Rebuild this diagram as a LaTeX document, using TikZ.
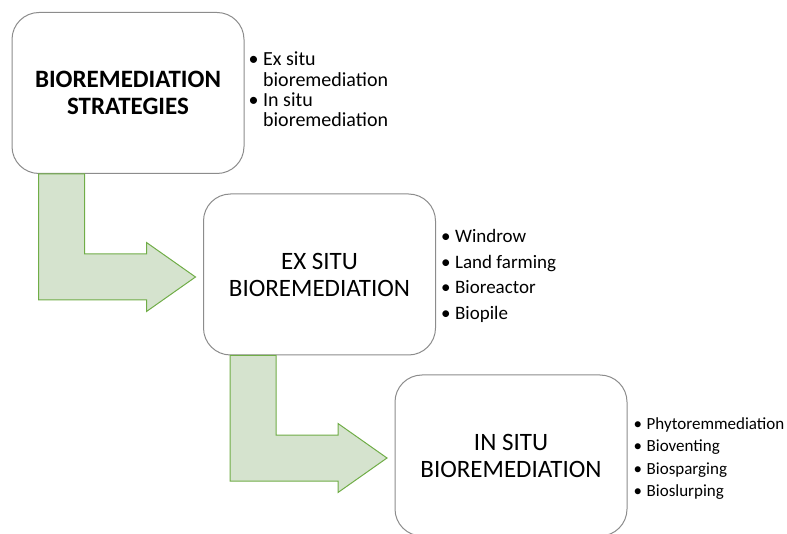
\documentclass[tikz,border=0pt]{standalone}
\usepackage{fontspec}
\setmainfont{Carlito}
\usetikzlibrary{positioning,calc}

\definecolor{boxline}{HTML}{8C8C8C}
\definecolor{arrowfill}{HTML}{D5E3CE}
\definecolor{arrowline}{HTML}{70AD47}

\newcommand{\itembul}{\textbullet\hspace{4.5pt}}

\tikzset{
  stratbox/.style={draw=boxline,line width=1pt,fill=white,rounded corners=27pt,
    minimum width=232pt,minimum height=161pt,align=center,
    font=\fontsize{25}{27}\selectfont},
  bulletlist/.style={anchor=west,align=left,inner sep=0pt},
  bendarrow/.style={draw=arrowline,fill=arrowfill,line width=1pt,line join=miter}
}

% bent block arrow from the foot of one box to the side of the next
\newcommand{\bendarrow}[2]{%
  \draw[bendarrow] let \p1=($(#1.south west)+(27,0)$), \p2=($(#2.west)+(-7.5,2.5)$) in
    (\x1,\y1) -- (\x1+46pt,\y1) -- (\x1+46pt,\y2+23pt) -- (\x2-49pt,\y2+23pt)
    -- (\x2-49pt,\y2+34.5pt) -- (\x2,\y2) -- (\x2-49pt,\y2-34.5pt)
    -- (\x2-49pt,\y2-23pt) -- (\x1,\y2-23pt) -- cycle;}

\begin{document}
\begin{tikzpicture}[x=1pt,y=-1pt]
\useasboundingbox (0,0) rectangle (787,534);
\node[stratbox,font=\fontsize{25}{27}\selectfont\bfseries] (strat) at (128,93) {BIOREMEDIATION\\STRATEGIES};
\node[stratbox] (exsitu) at (319.5,274.5) {EX SITU\\BIOREMEDIATION};
\node[stratbox] (insitu) at (511,455.5) {IN SITU\\BIOREMEDIATION};
\bendarrow{strat}{exsitu}
\bendarrow{exsitu}{insitu}
\node[bulletlist,right=4pt of strat,yshift=3.5pt,font=\fontsize{20}{20.3}\selectfont] (stratlist)
  {\itembul Ex situ\\\phantom{\itembul}bioremediation\\\itembul In situ\\\phantom{\itembul}bioremediation};
\node[bulletlist,right=5pt of exsitu,yshift=-1.5pt,font=\fontsize{19}{25.6}\selectfont] (exlist)
  {\itembul Windrow\\\itembul Land farming\\\itembul Bioreactor\\\itembul Biopile};
\node[bulletlist,right=6pt of insitu,yshift=-3pt,font=\fontsize{17}{22.4}\selectfont] (inlist)
  {\itembul Phytoremmediation\\\itembul Bioventing\\\itembul Biosparging\\\itembul Bioslurping};
\end{tikzpicture}
\end{document}
